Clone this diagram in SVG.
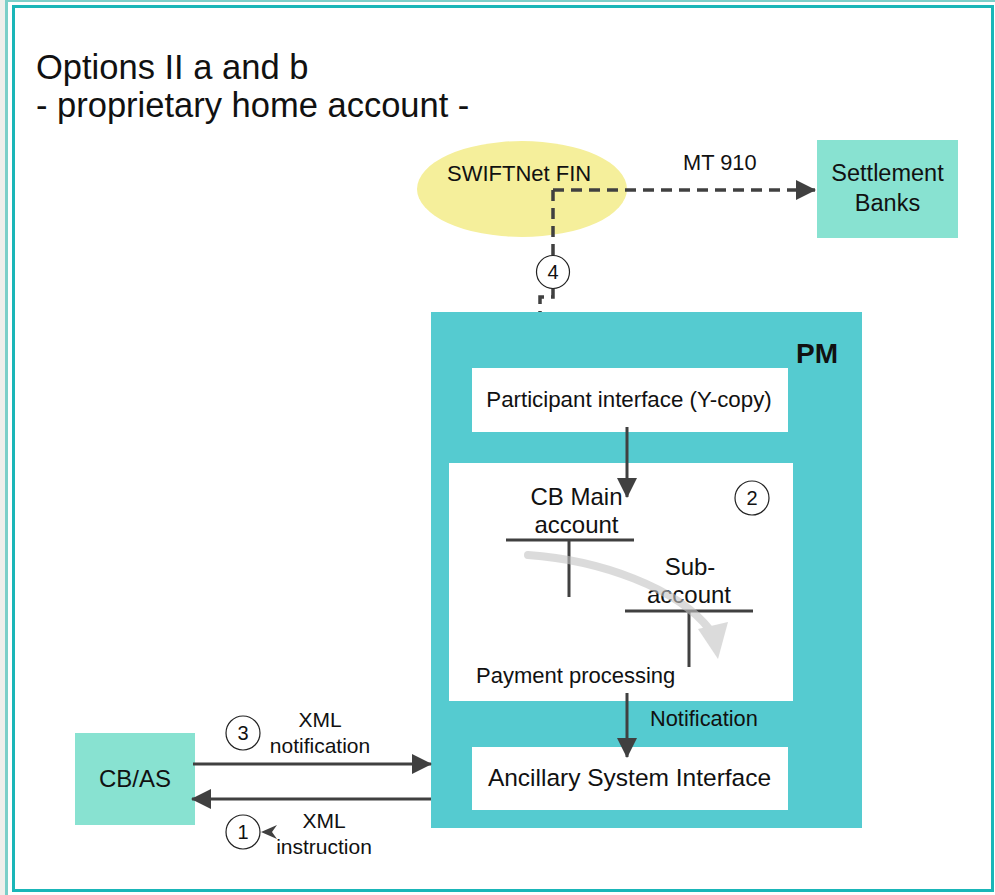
<svg xmlns="http://www.w3.org/2000/svg" width="995" height="895" viewBox="0 0 995 895">
<defs>
<style>
text{font-family:"Liberation Sans",Arial,sans-serif;fill:#111}
.c{text-anchor:middle}
.ln{stroke:#404040;stroke-width:3;fill:none}
.dash{stroke:#404040;stroke-width:3.5;fill:none;stroke-dasharray:11 7}
.num{fill:#fff;stroke:#222;stroke-width:1.2}
.mint{fill:#88e2d1}
.white{fill:#fff}
</style>
<marker id="ah" viewBox="0 0 20 20" refX="19" refY="10" markerWidth="20" markerHeight="20" markerUnits="userSpaceOnUse" orient="auto">
<path d="M0,0 L20,10 L0,20 Z" fill="#404040"/>
</marker>
</defs>
<rect x="0" y="0" width="995" height="895" fill="#fff"/>
<rect x="0" y="0" width="5" height="895" fill="#efefec"/>
<line x1="6.5" y1="0" x2="6.5" y2="895" stroke="#7ccfc9" stroke-width="3"/>
<line x1="5" y1="1" x2="995" y2="1" stroke="#7ccfc9" stroke-width="2"/>
<rect x="13.5" y="6.5" width="979" height="884" fill="#fff" stroke="#1ab6b8" stroke-width="3"/>

<g id="title">
<text x="36" y="79" font-size="34.5">Options II a and b</text>
<text x="36" y="117" font-size="34.5">- proprietary home account -</text>
</g>

<g id="swiftnet">
<ellipse cx="522" cy="189" rx="105" ry="48" fill="#f5ef9b"/>
<text x="447" y="181" font-size="22">SWIFTNet FIN</text>
</g>

<g id="settlement-banks">
<rect x="817" y="140" width="141" height="98" class="mint"/>
<text x="887.5" y="181" font-size="23.5" class="c">Settlement</text>
<text x="887.5" y="211" font-size="23.5" class="c">Banks</text>
</g>

<g id="pm">
<rect x="431" y="312" width="431" height="516" fill="#55cbd0"/>
<text x="838" y="363" font-size="28" font-weight="bold" text-anchor="end">PM</text>
</g>

<g id="participant-interface">
<rect x="472" y="368" width="316" height="64" class="white"/>
<text x="629" y="407" font-size="22.3" class="c">Participant interface (Y-copy)</text>
</g>

<g id="payment-processing">
<rect x="449" y="463" width="344" height="238" class="white"/>
<text x="576.5" y="505" font-size="24" class="c">CB Main</text>
<text x="576.5" y="533" font-size="24" class="c">account</text>
<line x1="506" y1="540" x2="634" y2="540" class="ln"/>
<line x1="569" y1="540" x2="569" y2="597" class="ln"/>
<text x="690" y="575" font-size="24" class="c">Sub-</text>
<text x="689" y="603" font-size="24" class="c">account</text>
<line x1="625" y1="611" x2="753" y2="611" class="ln"/>
<line x1="689" y1="611" x2="689" y2="667" class="ln"/>
<g opacity="0.6">
<path d="M528,555 C600,560 678,588 710,630" fill="none" stroke="#c4c4c4" stroke-width="8" stroke-linecap="round"/>
<polygon points="698,629 728,622 718,659" fill="#c4c4c4"/>
</g>
<circle cx="752" cy="498" r="17" class="num"/>
<text x="752" y="505" font-size="20" class="c">2</text>
<text x="476" y="683" font-size="22">Payment processing</text>
</g>

<g id="asi">
<rect x="472" y="747" width="316" height="63" class="white"/>
<text x="629.5" y="786" font-size="24.5" class="c">Ancillary System Interface</text>
</g>

<g id="cbas">
<rect x="75" y="733" width="120" height="92" class="mint"/>
<text x="135" y="787" font-size="24" class="c">CB/AS</text>
</g>

<g id="connectors">
<path d="M553,190 H815" class="dash" marker-end="url(#ah)"/>
<path d="M553,190 V256" class="dash"/>
<path d="M553,288 V297 H540 V312" class="dash"/>
<text x="683" y="170" font-size="21.8">MT 910</text>
<circle cx="553" cy="272" r="16.5" class="num"/>
<text x="553" y="279" font-size="20" class="c">4</text>

<line x1="627" y1="427" x2="627" y2="497" class="ln" marker-end="url(#ah)"/>
<line x1="627" y1="693" x2="627" y2="757" class="ln" marker-end="url(#ah)"/>
<text x="650" y="726" font-size="21.8">Notification</text>

<line x1="193" y1="764" x2="431" y2="764" class="ln" marker-end="url(#ah)"/>
<line x1="431" y1="799" x2="192" y2="799" class="ln" marker-end="url(#ah)"/>
<circle cx="243" cy="733" r="17" class="num"/>
<text x="243" y="740" font-size="20" class="c">3</text>
<text x="320" y="727" font-size="21" class="c">XML</text>
<text x="320" y="753" font-size="21" class="c">notification</text>
<circle cx="243" cy="832" r="17" class="num"/>
<text x="243" y="839" font-size="20" class="c">1</text>
<polygon points="261,832 277,825 272,832 277,839" fill="#404040"/>
<text x="324" y="828" font-size="21" class="c">XML</text>
<text x="324" y="854" font-size="21" class="c">instruction</text>
</g>
</svg>
